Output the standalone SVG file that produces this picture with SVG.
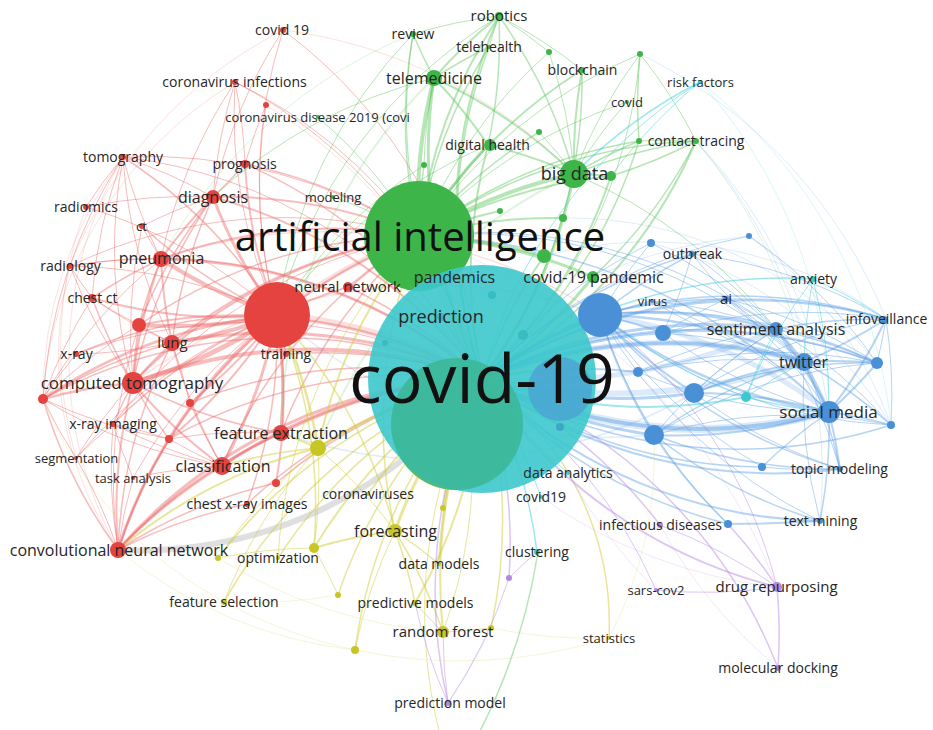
<svg xmlns="http://www.w3.org/2000/svg" width="933" height="730" viewBox="0 0 933 730">
<style>
text{font-family:"Open Sans","Noto Sans","DejaVu Sans",sans-serif;fill:#262626;text-anchor:middle}
.R circle{fill:#e5433f}
.G circle{fill:#3db549}
.B circle{fill:#4a90d6}
.T circle{fill:#3cc8cc}
.Y circle{fill:#c8c526}
.P circle{fill:#b386e0}
#connectors path{fill:none}
.r{stroke:#ee6a6a;stroke-opacity:.45}
.g{stroke:#5ec55e;stroke-opacity:.45}
.b{stroke:#5e9fe4;stroke-opacity:.45}
.t{stroke:#3fd0dc;stroke-opacity:.5}
.y{stroke:#cfcd3a;stroke-opacity:.5}
.p{stroke:#b98ee6;stroke-opacity:.5}
.x{stroke:#c4c4c4;stroke-opacity:.55}
.f{stroke-opacity:.2}
.h{stroke-opacity:.22}
</style>
<rect width="933" height="730" fill="#fff"/>
<g id="connectors" stroke-width="1">
<g id="edges-red">
<path class="r h" stroke-width="7" d="M277 315A500 500 0 0 1 482 379"/>
<path class="r h" stroke-width="5" d="M277 315A500 500 0 0 1 419 236"/>
<path class="r" d="M277 315A500 500 0 0 1 283 30"/>
<path class="r" d="M277 315A500 500 0 0 1 235 82"/>
<path class="r" d="M277 315A500 500 0 0 1 266 105"/>
<path class="r" stroke-width="1.5" d="M277 315A500 500 0 0 0 123 157"/>
<path class="r" stroke-width="2" d="M277 315A500 500 0 0 1 245 164"/>
<path class="r" stroke-width="3" d="M277 315A500 500 0 0 1 213 197"/>
<path class="r" d="M277 315A500 500 0 0 0 86 207"/>
<path class="r" stroke-width="1.5" d="M277 315A500 500 0 0 1 142 226"/>
<path class="r" stroke-width="4" d="M277 315A500 500 0 0 1 161 259"/>
<path class="r" d="M277 315A500 500 0 0 0 70 266"/>
<path class="r" stroke-width="2" d="M277 315A500 500 0 0 1 92 298"/>
<path class="r" stroke-width="4" d="M277 315A500 500 0 0 1 139 325"/>
<path class="r" stroke-width="4" d="M277 315A500 500 0 0 1 172 343"/>
<path class="r" stroke-width="1.5" d="M277 315A500 500 0 0 0 76 354"/>
<path class="r" stroke-width="5" d="M277 315A500 500 0 0 1 133 383"/>
<path class="r" stroke-width="2.5" d="M277 315A500 500 0 0 0 43 399"/>
<path class="r" stroke-width="2" d="M277 315A500 500 0 0 1 190 403"/>
<path class="r" stroke-width="1.5" d="M277 315A500 500 0 0 0 113 424"/>
<path class="r" stroke-width="2" d="M277 315A500 500 0 0 1 169 439"/>
<path class="r" stroke-width="3" d="M277 315A500 500 0 0 1 281 433"/>
<path class="r" d="M277 315A500 500 0 0 0 76 458"/>
<path class="r" stroke-width="3" d="M277 315A500 500 0 0 1 222 466"/>
<path class="r" d="M277 315A500 500 0 0 0 133 478"/>
<path class="r" stroke-width="1.5" d="M277 315A500 500 0 0 1 247 504"/>
<path class="r" stroke-width="3" d="M277 315A500 500 0 0 0 118 550"/>
<path class="r" stroke-width="2" d="M277 315A500 500 0 0 1 348 287"/>
<path class="r" stroke-width="1.5" d="M277 315A500 500 0 0 1 286 354"/>
<path class="r" stroke-width="2" d="M277 315A500 500 0 0 1 276 483"/>
<path class="r" stroke-width="2" d="M213 197A500 500 0 0 1 482 379"/>
<path class="r" stroke-width="3" d="M161 259A500 500 0 0 1 482 379"/>
<path class="r" stroke-width="3" d="M172 343A500 500 0 0 1 482 379"/>
<path class="r" stroke-width="4" d="M133 383A500 500 0 0 1 482 379"/>
<path class="r" stroke-width="3" d="M118 550A500 500 0 0 1 482 379"/>
<path class="r" stroke-width="3" d="M222 466A500 500 0 0 1 482 379"/>
<path class="r" stroke-width="3" d="M281 433A500 500 0 0 1 482 379"/>
<path class="r" stroke-width="1.5" d="M247 504A500 500 0 0 1 482 379"/>
<path class="r" stroke-width="1.5" d="M43 399A500 500 0 0 1 482 379"/>
<path class="r" d="M123 157A500 500 0 0 1 482 379"/>
<path class="r" d="M283 30A500 500 0 0 1 482 379"/>
<path class="r" d="M235 82A500 500 0 0 1 482 379"/>
<path class="r" stroke-width="1.5" d="M245 164A500 500 0 0 1 482 379"/>
<path class="r" stroke-width="2" d="M139 325A500 500 0 0 1 482 379"/>
<path class="r" d="M76 354A500 500 0 0 1 482 379"/>
<path class="r" stroke-width="1.5" d="M190 403A500 500 0 0 1 482 379"/>
<path class="r" d="M70 266A500 500 0 0 1 482 379"/>
<path class="r" stroke-width="1.5" d="M348 287A500 500 0 0 1 482 379"/>
<path class="r" stroke-width="1.5" d="M286 354A500 500 0 0 1 482 379"/>
<path class="r" stroke-width="1.5" d="M169 439A500 500 0 0 1 482 379"/>
<path class="r" stroke-width="1.5" d="M276 483A500 500 0 0 1 482 379"/>
<path class="r" stroke-width="2" d="M213 197A500 500 0 0 1 419 236"/>
<path class="r" stroke-width="2" d="M161 259A500 500 0 0 1 419 236"/>
<path class="r" stroke-width="2" d="M133 383A500 500 0 0 1 419 236"/>
<path class="r" stroke-width="2" d="M118 550A500 500 0 0 1 419 236"/>
<path class="r" stroke-width="2" d="M172 343A500 500 0 0 1 419 236"/>
<path class="r" stroke-width="1.5" d="M222 466A500 500 0 0 1 419 236"/>
<path class="r" stroke-width="1.5" d="M281 433A500 500 0 0 1 419 236"/>
<path class="r" d="M70 266A500 500 0 0 1 419 236"/>
<path class="r" d="M123 157A500 500 0 0 1 419 236"/>
<path class="r" d="M113 424A500 500 0 0 1 419 236"/>
<path class="r" stroke-width="1.5" d="M245 164A500 500 0 0 1 419 236"/>
<path class="r" d="M235 82A500 500 0 0 1 419 236"/>
<path class="r" stroke-width="1.5" d="M348 287A500 500 0 0 1 419 236"/>
<path class="r" stroke-width="1.5" d="M139 325A500 500 0 0 1 419 236"/>
<path class="r" stroke-width="2" d="M133 383A500 500 0 0 1 161 259"/>
<path class="r" stroke-width="2" d="M133 383A500 500 0 0 1 172 343"/>
<path class="r" stroke-width="1.5" d="M133 383A500 500 0 0 1 92 298"/>
<path class="r" stroke-width="2.5" d="M133 383A500 500 0 0 0 43 399"/>
<path class="r" stroke-width="1.5" d="M133 383A500 500 0 0 0 113 424"/>
<path class="r" stroke-width="1.5" d="M133 383A500 500 0 0 1 213 197"/>
<path class="r" d="M133 383A500 500 0 0 1 123 157"/>
<path class="r" d="M133 383A500 500 0 0 1 70 266"/>
<path class="r" d="M133 383A500 500 0 0 1 142 226"/>
<path class="r" stroke-width="2" d="M133 383A500 500 0 0 0 222 466"/>
<path class="r" stroke-width="2" d="M118 550A500 500 0 0 1 133 383"/>
<path class="r" d="M133 383A500 500 0 0 0 76 458"/>
<path class="r" stroke-width="2" d="M133 383A500 500 0 0 1 139 325"/>
<path class="r" stroke-width="1.5" d="M133 383A500 500 0 0 0 281 433"/>
<path class="r" stroke-width="1.5" d="M133 383A500 500 0 0 0 169 439"/>
<path class="r" stroke-width="2" d="M213 197A500 500 0 0 0 161 259"/>
<path class="r" stroke-width="1.5" d="M213 197A500 500 0 0 0 172 343"/>
<path class="r" d="M123 157A500 500 0 0 1 213 197"/>
<path class="r" stroke-width="1.5" d="M245 164A500 500 0 0 1 213 197"/>
<path class="r" d="M86 207A500 500 0 0 1 213 197"/>
<path class="r" d="M142 226A500 500 0 0 1 213 197"/>
<path class="r" stroke-width="1.5" d="M213 197A500 500 0 0 0 139 325"/>
<path class="r" stroke-width="2.5" d="M118 550A500 500 0 0 1 222 466"/>
<path class="r" stroke-width="2" d="M118 550A500 500 0 0 1 281 433"/>
<path class="r" stroke-width="1.5" d="M43 399A500 500 0 0 0 118 550"/>
<path class="r" d="M118 550A500 500 0 0 1 113 424"/>
<path class="r" stroke-width="1.5" d="M118 550A500 500 0 0 1 172 343"/>
<path class="r" d="M118 550A500 500 0 0 1 133 478"/>
<path class="r" stroke-width="1.5" d="M118 550A500 500 0 0 1 247 504"/>
<path class="r" stroke-width="1.5" d="M118 550A500 500 0 0 1 276 483"/>
<path class="r" d="M76 458A500 500 0 0 1 118 550"/>
<path class="r" d="M118 550A500 500 0 0 1 169 439"/>
<path class="r" d="M118 550A500 500 0 0 1 139 325"/>
<path class="r" stroke-width="1.5" d="M43 399A500 500 0 0 1 172 343"/>
<path class="r" d="M43 399A500 500 0 0 1 161 259"/>
<path class="r" d="M43 399A500 500 0 0 1 76 354"/>
<path class="r" d="M43 399A500 500 0 0 0 169 439"/>
<path class="r" d="M43 399A500 500 0 0 1 92 298"/>
<path class="r" d="M43 399A500 500 0 0 1 123 157"/>
<path class="r" d="M43 399A500 500 0 0 0 76 458"/>
<path class="r" d="M43 399A500 500 0 0 1 139 325"/>
<path class="r" d="M43 399A500 500 0 0 0 222 466"/>
<path class="r" stroke-width="2" d="M222 466A500 500 0 0 1 281 433"/>
<path class="r" stroke-width="1.5" d="M172 343A500 500 0 0 0 222 466"/>
<path class="r" d="M113 424A500 500 0 0 0 222 466"/>
<path class="r" d="M133 478A500 500 0 0 1 222 466"/>
<path class="r" d="M190 403A500 500 0 0 0 222 466"/>
<path class="r" d="M169 439A500 500 0 0 0 222 466"/>
<path class="r" d="M169 439A500 500 0 0 1 281 433"/>
<path class="r" d="M113 424A500 500 0 0 1 169 439"/>
<path class="r" d="M76 458A500 500 0 0 1 113 424"/>
<path class="r" d="M133 478A500 500 0 0 1 113 424"/>
<path class="r" stroke-width="2" d="M161 259A500 500 0 0 0 172 343"/>
<path class="r" stroke-width="1.5" d="M92 298A500 500 0 0 1 161 259"/>
<path class="r" d="M123 157A500 500 0 0 0 161 259"/>
<path class="r" d="M142 226A500 500 0 0 0 161 259"/>
<path class="r" d="M70 266A500 500 0 0 1 161 259"/>
<path class="r" stroke-width="1.5" d="M161 259A500 500 0 0 0 139 325"/>
<path class="r" d="M172 343A500 500 0 0 1 76 354"/>
<path class="r" d="M92 298A500 500 0 0 0 172 343"/>
<path class="r" d="M139 325A500 500 0 0 0 172 343"/>
<path class="r" d="M190 403A500 500 0 0 0 172 343"/>
<path class="r" d="M70 266A500 500 0 0 0 92 298"/>
<path class="r" d="M92 298A500 500 0 0 0 139 325"/>
<path class="r" d="M123 157A500 500 0 0 0 86 207"/>
<path class="r" d="M123 157A500 500 0 0 0 92 298"/>
<path class="r" d="M123 157A500 500 0 0 0 172 343"/>
<path class="r" d="M235 82A500 500 0 0 0 213 197"/>
<path class="r" d="M235 82A500 500 0 0 0 161 259"/>
<path class="r" d="M283 30A500 500 0 0 0 213 197"/>
<path class="r" d="M235 82A500 500 0 0 1 245 164"/>
<path class="r" d="M266 105A500 500 0 0 0 245 164"/>
<path class="r f" d="M283 30A500 500 0 0 1 574 174"/>
<path class="r f" d="M123 157A400 400 0 0 0 118 550"/>
<path class="r f" d="M86 207A400 400 0 0 0 76 458"/>
<path class="r f" d="M70 266A350 350 0 0 0 118 550"/>
<path class="r f" d="M235 82A400 400 0 0 0 43 399"/>
<path class="r f" d="M266 105A500 500 0 0 1 482 379"/>
<path class="r f" d="M123 157A400 400 0 0 0 43 399"/>
<path class="r f" d="M283 30A450 450 0 0 0 70 266"/>
<path class="r f" stroke-width="1.5" d="M133 383A500 500 0 0 1 600 315"/>
<path class="r f" stroke-width="1.5" d="M161 259A500 500 0 0 1 600 315"/>
</g>
<g id="edges-gray">
<path class="x" stroke-width="6" d="M118 550A430 430 0 0 0 482 379"/>
</g>
<g id="edges-green">
<path class="g" stroke-width="2" d="M419 236A500 500 0 0 1 499 16"/>
<path class="g" stroke-width="1.5" d="M419 236A500 500 0 0 1 413 34"/>
<path class="g" stroke-width="1.5" d="M419 236A500 500 0 0 1 489 47"/>
<path class="g" d="M419 236A500 500 0 0 1 549 52"/>
<path class="g" d="M419 236A500 500 0 0 1 640 54"/>
<path class="g" stroke-width="4" d="M419 236A500 500 0 0 1 434 78"/>
<path class="g" stroke-width="2" d="M419 236A500 500 0 0 1 582 70"/>
<path class="g" d="M419 236A500 500 0 0 1 627 102"/>
<path class="g" stroke-width="1.5" d="M419 236A500 500 0 0 1 539 132"/>
<path class="g" stroke-width="3" d="M419 236A500 500 0 0 1 488 145"/>
<path class="g" stroke-width="1.5" d="M419 236A500 500 0 0 1 424 165"/>
<path class="g" stroke-width="1.5" d="M419 236A500 500 0 0 1 696 141"/>
<path class="g" stroke-width="1.5" d="M419 236A500 500 0 0 1 639 141"/>
<path class="g" stroke-width="4" d="M419 236A500 500 0 0 1 574 174"/>
<path class="g" stroke-width="2" d="M419 236A500 500 0 0 1 611 176"/>
<path class="g" stroke-width="2" d="M419 236A500 500 0 0 1 500 211"/>
<path class="g" stroke-width="2" d="M419 236A500 500 0 0 1 563 218"/>
<path class="g" stroke-width="3" d="M419 236A500 500 0 0 1 544 256"/>
<path class="g" stroke-width="3" d="M419 236A500 500 0 0 1 593 277"/>
<path class="g" d="M419 236A500 500 0 0 0 333 197"/>
<path class="g" d="M419 236A500 500 0 0 0 318 117"/>
<path class="g" stroke-width="2" d="M482 379A500 500 0 0 1 499 16"/>
<path class="g" stroke-width="3" d="M482 379A500 500 0 0 1 434 78"/>
<path class="g" stroke-width="3" d="M482 379A500 500 0 0 0 574 174"/>
<path class="g" stroke-width="2" d="M482 379A500 500 0 0 1 488 145"/>
<path class="g" stroke-width="2" d="M482 379A500 500 0 0 0 696 141"/>
<path class="g" stroke-width="1.5" d="M482 379A500 500 0 0 0 582 70"/>
<path class="g" stroke-width="3" d="M482 379A500 500 0 0 0 593 277"/>
<path class="g" stroke-width="2" d="M482 379A500 500 0 0 1 544 256"/>
<path class="g" d="M482 379A500 500 0 0 1 413 34"/>
<path class="g" d="M482 379A500 500 0 0 0 640 54"/>
<path class="g" stroke-width="1.5" d="M482 379A500 500 0 0 1 489 47"/>
<path class="g" stroke-width="1.5" d="M482 379A500 500 0 0 0 639 141"/>
<path class="g" stroke-width="2" d="M482 379A500 500 0 0 0 611 176"/>
<path class="g" stroke-width="2" d="M499 16A500 500 0 0 0 434 78"/>
<path class="g" d="M499 16A500 500 0 0 0 413 34"/>
<path class="g" stroke-width="1.5" d="M499 16A500 500 0 0 1 488 145"/>
<path class="g" stroke-width="1.5" d="M499 16A500 500 0 0 1 574 174"/>
<path class="g" d="M499 16A500 500 0 0 1 549 52"/>
<path class="g" d="M499 16A500 500 0 0 1 582 70"/>
<path class="g" d="M499 16A500 500 0 0 0 489 47"/>
<path class="g" stroke-width="1.5" d="M434 78A500 500 0 0 1 413 34"/>
<path class="g" stroke-width="1.5" d="M434 78A500 500 0 0 1 489 47"/>
<path class="g" stroke-width="2" d="M434 78A500 500 0 0 1 488 145"/>
<path class="g" stroke-width="2" d="M434 78A500 500 0 0 1 574 174"/>
<path class="g" d="M434 78A500 500 0 0 0 424 165"/>
<path class="g" stroke-width="2" d="M574 174A500 500 0 0 1 582 70"/>
<path class="g" d="M574 174A500 500 0 0 1 640 54"/>
<path class="g" stroke-width="1.5" d="M574 174A500 500 0 0 1 696 141"/>
<path class="g" stroke-width="1.5" d="M574 174A500 500 0 0 1 639 141"/>
<path class="g" stroke-width="2" d="M574 174A500 500 0 0 1 611 176"/>
<path class="g" d="M574 174A500 500 0 0 1 627 102"/>
<path class="g" d="M574 174A500 500 0 0 0 539 132"/>
<path class="g" stroke-width="2" d="M574 174A500 500 0 0 0 488 145"/>
<path class="g" d="M574 174A500 500 0 0 0 549 52"/>
<path class="g" d="M696 141A500 500 0 0 0 640 54"/>
<path class="g" stroke-width="1.5" d="M639 141A500 500 0 0 1 640 54"/>
<path class="g" stroke-width="1.5" d="M696 141A500 500 0 0 1 611 176"/>
<path class="g" d="M639 141A500 500 0 0 0 611 176"/>
<path class="g" d="M696 141A500 500 0 0 0 639 141"/>
<path class="g" stroke-width="1.5" d="M696 141A500 500 0 0 1 593 277"/>
<path class="g" d="M434 78A500 500 0 0 0 213 197"/>
<path class="g" d="M413 34A500 500 0 0 0 277 315"/>
<path class="g" d="M499 16A500 500 0 0 0 277 315"/>
<path class="g" d="M424 165A500 500 0 0 0 277 315"/>
<path class="g" d="M488 145A500 500 0 0 0 277 315"/>
<path class="g f" d="M413 34A500 500 0 0 0 161 259"/>
<path class="g" d="M574 174A500 500 0 0 1 776 329"/>
<path class="g f" d="M696 141A500 500 0 0 1 804 362"/>
<path class="g" stroke-width="1.5" d="M538 552A600 600 0 0 1 478 735"/>
<path class="g f" stroke-width="2" d="M434 78A500 500 0 0 0 281 433"/>
<path class="g f" stroke-width="2" d="M574 174A500 500 0 0 0 318 448"/>
</g>
<g id="edges-blue">
<path class="b h" stroke-width="8" d="M482 379A500 500 0 0 0 829 412"/>
<path class="b h" stroke-width="6" d="M482 379A500 500 0 0 1 804 362"/>
<path class="b h" stroke-width="6" d="M482 379A600 600 0 0 0 804 362"/>
<path class="b h" stroke-width="5" d="M600 315A500 500 0 0 1 829 412"/>
<path class="b h" stroke-width="5" d="M482 379A600 600 0 0 0 776 329"/>
<path class="b" stroke-width="4" d="M482 379A500 500 0 0 1 600 315"/>
<path class="b" stroke-width="2" d="M482 379A500 500 0 0 1 638 372"/>
<path class="b" stroke-width="2.5" d="M482 379A500 500 0 0 1 663 333"/>
<path class="b" stroke-width="3" d="M482 379A500 500 0 0 0 694 393"/>
<path class="b" stroke-width="3" d="M482 379A500 500 0 0 0 654 435"/>
<path class="b" stroke-width="3" d="M482 379A500 500 0 0 1 776 329"/>
<path class="b" stroke-width="3.5" d="M482 379A500 500 0 0 1 804 362"/>
<path class="b" stroke-width="4" d="M482 379A500 500 0 0 0 829 412"/>
<path class="b" stroke-width="2" d="M482 379A500 500 0 0 1 886 319"/>
<path class="b" stroke-width="2" d="M482 379A500 500 0 0 1 877 363"/>
<path class="b" stroke-width="1.5" d="M482 379A500 500 0 0 0 891 425"/>
<path class="b" stroke-width="2" d="M482 379A500 500 0 0 0 840 469"/>
<path class="b" stroke-width="2" d="M482 379A500 500 0 0 0 820 521"/>
<path class="b" stroke-width="1.5" d="M482 379A500 500 0 0 0 762 467"/>
<path class="b" stroke-width="1.5" d="M482 379A500 500 0 0 0 728 524"/>
<path class="b" stroke-width="1.5" d="M482 379A500 500 0 0 1 692 254"/>
<path class="b" stroke-width="2" d="M482 379A500 500 0 0 1 726 299"/>
<path class="b" d="M482 379A500 500 0 0 1 651 243"/>
<path class="b" d="M482 379A500 500 0 0 1 749 236"/>
<path class="b" stroke-width="1.5" d="M482 379A500 500 0 0 1 652 301"/>
<path class="b" stroke-width="2.5" d="M600 315A500 500 0 0 1 804 362"/>
<path class="b" stroke-width="2.5" d="M600 315A500 500 0 0 0 829 412"/>
<path class="b" stroke-width="2.5" d="M600 315A500 500 0 0 1 776 329"/>
<path class="b" stroke-width="1.5" d="M600 315A500 500 0 0 1 877 363"/>
<path class="b" stroke-width="1.5" d="M600 315A500 500 0 0 1 886 319"/>
<path class="b" stroke-width="2" d="M600 315A500 500 0 0 0 694 393"/>
<path class="b" stroke-width="2" d="M600 315A500 500 0 0 0 654 435"/>
<path class="b" stroke-width="1.5" d="M600 315A500 500 0 0 0 840 469"/>
<path class="b" d="M600 315A500 500 0 0 0 762 467"/>
<path class="b" stroke-width="1.5" d="M600 315A500 500 0 0 1 726 299"/>
<path class="b" stroke-width="1.5" d="M600 315A500 500 0 0 1 692 254"/>
<path class="b" stroke-width="2" d="M600 315A500 500 0 0 1 663 333"/>
<path class="b" d="M600 315A500 500 0 0 0 891 425"/>
<path class="b" d="M600 315A500 500 0 0 0 820 521"/>
<path class="b" d="M600 315A500 500 0 0 0 728 524"/>
<path class="b" d="M600 315A500 500 0 0 1 651 243"/>
<path class="b" stroke-width="3" d="M804 362A500 500 0 0 1 829 412"/>
<path class="b" stroke-width="2.5" d="M804 362A500 500 0 0 0 776 329"/>
<path class="b" stroke-width="2" d="M804 362A500 500 0 0 0 886 319"/>
<path class="b" stroke-width="2" d="M804 362A500 500 0 0 1 877 363"/>
<path class="b" stroke-width="1.5" d="M804 362A500 500 0 0 1 891 425"/>
<path class="b" stroke-width="1.5" d="M804 362A500 500 0 0 1 840 469"/>
<path class="b" d="M804 362A500 500 0 0 0 820 521"/>
<path class="b" stroke-width="1.5" d="M804 362A500 500 0 0 0 694 393"/>
<path class="b" stroke-width="1.5" d="M804 362A500 500 0 0 0 654 435"/>
<path class="b" d="M804 362A500 500 0 0 0 663 333"/>
<path class="b" d="M804 362A500 500 0 0 0 638 372"/>
<path class="b" d="M804 362A500 500 0 0 0 726 299"/>
<path class="b" d="M804 362A500 500 0 0 1 652 301"/>
<path class="b" d="M804 362A500 500 0 0 1 692 254"/>
<path class="b" stroke-width="2.5" d="M829 412A500 500 0 0 0 776 329"/>
<path class="b" stroke-width="2" d="M829 412A500 500 0 0 0 886 319"/>
<path class="b" stroke-width="2" d="M829 412A500 500 0 0 0 877 363"/>
<path class="b" stroke-width="1.5" d="M829 412A500 500 0 0 1 891 425"/>
<path class="b" stroke-width="2" d="M829 412A500 500 0 0 1 840 469"/>
<path class="b" stroke-width="1.5" d="M829 412A500 500 0 0 1 820 521"/>
<path class="b" stroke-width="2" d="M654 435A500 500 0 0 0 829 412"/>
<path class="b" stroke-width="1.5" d="M762 467A500 500 0 0 1 829 412"/>
<path class="b" stroke-width="2" d="M694 393A500 500 0 0 1 829 412"/>
<path class="b" d="M663 333A500 500 0 0 0 829 412"/>
<path class="b" d="M638 372A500 500 0 0 0 829 412"/>
<path class="b" d="M652 301A500 500 0 0 1 829 412"/>
<path class="b" d="M726 299A500 500 0 0 1 829 412"/>
<path class="b" stroke-width="1.5" d="M776 329A500 500 0 0 1 886 319"/>
<path class="b" stroke-width="1.5" d="M776 329A500 500 0 0 1 877 363"/>
<path class="b" stroke-width="1.5" d="M776 329A500 500 0 0 0 663 333"/>
<path class="b" d="M776 329A500 500 0 0 0 726 299"/>
<path class="b" d="M776 329A500 500 0 0 0 694 393"/>
<path class="b" d="M776 329A500 500 0 0 0 654 435"/>
<path class="b" d="M776 329A500 500 0 0 0 638 372"/>
<path class="b" d="M776 329A500 500 0 0 1 891 425"/>
<path class="b" d="M776 329A500 500 0 0 1 840 469"/>
<path class="b" d="M692 254A500 500 0 0 1 776 329"/>
<path class="b" d="M692 254A500 500 0 0 1 886 319"/>
<path class="b" d="M652 301A500 500 0 0 1 776 329"/>
<path class="b" d="M663 333A500 500 0 0 1 886 319"/>
<path class="b" d="M663 333A500 500 0 0 1 877 363"/>
<path class="b" d="M638 372A500 500 0 0 1 877 363"/>
<path class="b" d="M694 393A500 500 0 0 1 886 319"/>
<path class="b" d="M654 435A500 500 0 0 1 891 425"/>
<path class="b" d="M654 435A500 500 0 0 1 877 363"/>
<path class="b" d="M726 299A500 500 0 0 1 886 319"/>
<path class="b" d="M726 299A500 500 0 0 1 877 363"/>
<path class="b" stroke-width="1.5" d="M654 435A500 500 0 0 0 820 521"/>
<path class="b" stroke-width="1.5" d="M654 435A500 500 0 0 0 840 469"/>
<path class="b" stroke-width="1.5" d="M654 435A500 500 0 0 0 728 524"/>
<path class="b" stroke-width="1.5" d="M694 393A500 500 0 0 1 877 363"/>
<path class="b" d="M694 393A500 500 0 0 0 840 469"/>
<path class="b" stroke-width="2" d="M728 524A1500 1500 0 0 0 820 521"/>
<path class="b" d="M762 467A500 500 0 0 0 840 469"/>
<path class="b" d="M891 425A500 500 0 0 0 886 319"/>
<path class="b" d="M877 363A500 500 0 0 0 886 319"/>
<path class="b" d="M419 236A500 500 0 0 1 776 329"/>
<path class="b" d="M419 236A500 500 0 0 1 804 362"/>
<path class="b" stroke-width="1.5" d="M419 236A600 600 0 0 1 829 412"/>
<path class="b" d="M749 236A500 500 0 0 1 877 363"/>
<path class="b" d="M651 243A500 500 0 0 1 776 329"/>
<path class="b" d="M692 254A500 500 0 0 1 663 333"/>
<path class="b" d="M726 299A500 500 0 0 0 663 333"/>
<path class="b f" d="M640 54A500 500 0 0 1 886 319"/>
<path class="b f" d="M696 141A500 500 0 0 1 820 521"/>
<path class="b f" d="M696 141A500 500 0 0 1 829 412"/>
<path class="b f" d="M749 236A400 400 0 0 1 891 425"/>
<path class="b f" d="M544 256A400 400 0 0 1 886 319"/>
<path class="b f" d="M563 218A400 400 0 0 1 877 363"/>
<path class="b f" d="M651 243A400 400 0 0 1 891 425"/>
<path class="b f" d="M593 277A500 500 0 0 1 749 236"/>
<path class="b f" stroke-width="1.5" d="M277 315A500 500 0 0 0 654 435"/>
<path class="b f" stroke-width="1.5" d="M281 433A500 500 0 0 0 694 393"/>
</g>
<g id="edges-teal">
<path class="t" stroke-width="1.5" d="M482 379A500 500 0 0 1 813 279"/>
<path class="t" stroke-width="2" d="M482 379A500 500 0 0 0 746 397"/>
<path class="t" d="M482 379A500 500 0 0 1 700 82"/>
<path class="t" stroke-width="1.5" d="M700 82A500 500 0 0 0 574 174"/>
<path class="t" d="M700 82A500 500 0 0 0 639 141"/>
<path class="t" d="M813 279A500 500 0 0 0 804 362"/>
<path class="t" d="M813 279A500 500 0 0 1 829 412"/>
<path class="t" d="M813 279A500 500 0 0 0 746 397"/>
<path class="t" stroke-width="1.5" d="M746 397A500 500 0 0 0 829 412"/>
<path class="t" d="M746 397A500 500 0 0 1 804 362"/>
<path class="t" d="M813 279A500 500 0 0 1 886 319"/>
<path class="t" d="M746 397A500 500 0 0 1 776 329"/>
<path class="t" stroke-width="1.5" d="M482 379A500 500 0 0 1 537 552"/>
<path class="t" d="M482 379A500 500 0 0 1 541 497"/>
<path class="t" d="M482 379A500 500 0 0 0 568 473"/>
<path class="t f" d="M700 82A500 500 0 0 1 891 425"/>
<path class="t f" d="M700 82A500 500 0 0 1 829 412"/>
<path class="t" d="M600 315A500 500 0 0 0 746 397"/>
</g>
<g id="edges-yellow">
<path class="y" stroke-width="3" d="M482 379A500 500 0 0 0 318 448"/>
<path class="y" stroke-width="2" d="M482 379A500 500 0 0 0 368 494"/>
<path class="y" stroke-width="3" d="M482 379A500 500 0 0 0 395 531"/>
<path class="y" stroke-width="2" d="M482 379A500 500 0 0 0 314 548"/>
<path class="y" stroke-width="1.5" d="M482 379A500 500 0 0 0 218 558"/>
<path class="y" stroke-width="2" d="M482 379A500 500 0 0 0 439 564"/>
<path class="y" stroke-width="1.5" d="M482 379A500 500 0 0 0 338 595"/>
<path class="y" stroke-width="1.5" d="M482 379A500 500 0 0 0 224 602"/>
<path class="y" stroke-width="2" d="M482 379A500 500 0 0 1 415 603"/>
<path class="y" stroke-width="2" d="M482 379A500 500 0 0 0 443 632"/>
<path class="y" stroke-width="1.5" d="M482 379A500 500 0 0 1 491 628"/>
<path class="y" stroke-width="1.5" d="M482 379A500 500 0 0 0 355 650"/>
<path class="y" stroke-width="1.5" d="M482 379A300 300 0 0 1 609 638"/>
<path class="y" stroke-width="2" d="M482 379A500 500 0 0 0 443 508"/>
<path class="y" stroke-width="1.5" d="M482 379A500 500 0 0 0 278 558"/>
<path class="y" stroke-width="2" d="M419 236A500 500 0 0 0 318 448"/>
<path class="y" stroke-width="1.5" d="M419 236A500 500 0 0 0 395 531"/>
<path class="y" d="M419 236A500 500 0 0 0 278 558"/>
<path class="y" d="M419 236A500 500 0 0 1 443 632"/>
<path class="y" stroke-width="2.5" d="M277 315A500 500 0 0 1 318 448"/>
<path class="y" stroke-width="1.5" d="M277 315A500 500 0 0 1 314 548"/>
<path class="y" stroke-width="1.5" d="M277 315A500 500 0 0 1 395 531"/>
<path class="y" stroke-width="2" d="M395 531A500 500 0 0 0 314 548"/>
<path class="y" stroke-width="1.5" d="M395 531A500 500 0 0 1 443 632"/>
<path class="y" stroke-width="1.5" d="M395 531A500 500 0 0 1 415 603"/>
<path class="y" d="M395 531A500 500 0 0 0 355 650"/>
<path class="y" stroke-width="1.5" d="M395 531A500 500 0 0 1 439 564"/>
<path class="y" d="M318 448A500 500 0 0 0 224 602"/>
<path class="y" d="M318 448A500 500 0 0 0 218 558"/>
<path class="y" stroke-width="2" d="M318 448A500 500 0 0 0 118 550"/>
<path class="y" stroke-width="2" d="M318 448A500 500 0 0 0 281 433"/>
<path class="y" stroke-width="1.5" d="M318 448A500 500 0 0 0 222 466"/>
<path class="y" d="M318 448A500 500 0 0 1 395 531"/>
<path class="y" d="M318 448A500 500 0 0 1 314 548"/>
<path class="y" d="M443 632A500 500 0 0 0 491 628"/>
<path class="y" d="M443 632A500 500 0 0 1 415 603"/>
<path class="y" d="M314 548A500 500 0 0 0 218 558"/>
<path class="y" d="M314 548A500 500 0 0 1 338 595"/>
<path class="y f" d="M355 650A500 500 0 0 1 224 602"/>
<path class="y f" d="M338 595A500 500 0 0 1 224 602"/>
<path class="y f" d="M609 638A500 500 0 0 1 491 628"/>
<path class="y f" d="M355 650A450 450 0 0 1 118 550"/>
<path class="y f" d="M224 602A400 400 0 0 1 43 399"/>
<path class="y" d="M482 379A500 500 0 0 0 440 735"/>
<path class="y f" d="M609 638A500 500 0 0 1 355 650"/>
<path class="y f" d="M443 632A500 500 0 0 1 218 558"/>
<path class="y f" d="M609 638A400 400 0 0 0 654 435"/>
</g>
<g id="edges-purple">
<path class="p" stroke-width="1.5" d="M482 379A500 500 0 0 0 448 703"/>
<path class="p" stroke-width="1.5" d="M482 379A500 500 0 0 1 509 578"/>
<path class="p" d="M482 379A500 500 0 0 1 656 590"/>
<path class="p" stroke-width="2" d="M482 379A500 500 0 0 0 777 587"/>
<path class="p" stroke-width="1.5" d="M482 379A500 500 0 0 1 778 668"/>
<path class="p" stroke-width="1.5" d="M482 379A500 500 0 0 1 660 525"/>
<path class="p" stroke-width="1.5" d="M777 587A500 500 0 0 1 778 668"/>
<path class="p" stroke-width="1.5" d="M777 587A500 500 0 0 0 728 524"/>
<path class="p" d="M777 587A500 500 0 0 0 660 525"/>
<path class="p" d="M777 587A500 500 0 0 1 656 590"/>
<path class="p" d="M777 587A500 500 0 0 0 600 315"/>
<path class="p" d="M448 703A500 500 0 0 1 443 632"/>
<path class="p" d="M448 703A500 500 0 0 0 509 578"/>
<path class="p" d="M448 703A500 500 0 0 1 415 603"/>
<path class="p f" d="M448 703A500 500 0 0 0 491 628"/>
<path class="p f" d="M778 668A500 500 0 0 1 660 525"/>
<path class="p f" d="M541 497A500 500 0 0 0 777 587"/>
<path class="p f" d="M568 473A500 500 0 0 0 656 590"/>
<path class="p f" d="M419 236A600 600 0 0 1 777 587"/>
<path class="p" d="M509 578A500 500 0 0 1 537 552"/>
</g>
</g>
<g id="nodes">
<g id="n-forecast-core" class="Y"><circle cx="455" cy="428" r="62"/></g>
<g id="n-artificial-intelligence" class="G"><circle cx="419" cy="236" r="55"/><text x="420" y="251" font-size="40" style="fill:#111">artificial intelligence</text></g>
<g id="n-covid-19" class="T"><circle cx="482" cy="379" r="114" style="fill-opacity:.9"/><g id="n-machine-core" class="G"><circle cx="457" cy="424" r="66" style="fill:#3cb89a;fill-opacity:.92"/></g><g id="n-covid-inner" class="B"><circle cx="560" cy="389" r="32" style="fill:#4aa2d2;fill-opacity:.8"/></g><text x="482" y="403" font-size="68" style="fill:#111">covid-19</text></g>
<g id="n-red-hub" class="R"><circle cx="277" cy="315" r="33"/></g>
<g id="n-blue-hub" class="B"><circle cx="600" cy="315" r="22"/></g>
<g id="n-r1" class="R"><circle cx="266" cy="105" r="3"/></g>
<g id="n-r2" class="R"><circle cx="139" cy="325" r="7"/></g>
<g id="n-r3" class="R"><circle cx="43" cy="399" r="5"/></g>
<g id="n-r4" class="R"><circle cx="190" cy="403" r="4"/></g>
<g id="n-r5" class="R"><circle cx="169" cy="439" r="4"/></g>
<g id="n-r6" class="R"><circle cx="276" cy="483" r="4"/></g>
<g id="n-y1" class="Y"><circle cx="318" cy="448" r="8"/></g>
<g id="n-y2" class="Y"><circle cx="443" cy="508" r="3"/></g>
<g id="n-y3" class="Y"><circle cx="314" cy="548" r="5"/></g>
<g id="n-y4" class="Y"><circle cx="218" cy="558" r="3"/></g>
<g id="n-y5" class="Y"><circle cx="338" cy="595" r="3"/></g>
<g id="n-y6" class="Y"><circle cx="491" cy="628" r="3"/></g>
<g id="n-y7" class="Y"><circle cx="355" cy="650" r="4"/></g>
<g id="n-p1" class="P"><circle cx="509" cy="578" r="3"/></g>
<g id="n-g1" class="G"><circle cx="549" cy="52" r="3"/></g>
<g id="n-g2" class="G"><circle cx="640" cy="54" r="3"/></g>
<g id="n-g3" class="G"><circle cx="539" cy="132" r="3"/></g>
<g id="n-g4" class="G"><circle cx="424" cy="165" r="3"/></g>
<g id="n-g5" class="G"><circle cx="639" cy="141" r="3"/></g>
<g id="n-g6" class="G"><circle cx="611" cy="176" r="5"/></g>
<g id="n-g7" class="G"><circle cx="500" cy="211" r="3"/></g>
<g id="n-g8" class="G"><circle cx="563" cy="218" r="4"/></g>
<g id="n-g9" class="G"><circle cx="544" cy="256" r="7"/></g>
<g id="n-b1" class="B"><circle cx="728" cy="524" r="4"/></g>
<g id="n-b2" class="B"><circle cx="762" cy="467" r="4"/></g>
<g id="n-b3" class="B"><circle cx="891" cy="425" r="4"/></g>
<g id="n-b4" class="B"><circle cx="654" cy="435" r="10"/></g>
<g id="n-b5" class="B"><circle cx="694" cy="393" r="10"/></g>
<g id="n-b6" class="B"><circle cx="638" cy="372" r="5"/></g>
<g id="n-b7" class="B"><circle cx="877" cy="363" r="6"/></g>
<g id="n-b8" class="B"><circle cx="663" cy="333" r="8"/></g>
<g id="n-b9" class="B"><circle cx="651" cy="243" r="4"/></g>
<g id="n-b10" class="B"><circle cx="749" cy="236" r="3"/></g>
<g id="n-t1" class="T"><circle cx="746" cy="397" r="5"/></g>
<g id="n-t2" class="T"><circle cx="492" cy="295" r="4" style="fill:#38bcc2"/></g>
<g id="n-t3" class="T"><circle cx="523" cy="335" r="5" style="fill:#38bcc2"/></g>
<g id="n-t4" class="T"><circle cx="385" cy="343" r="3" style="fill:#38bcc2"/></g>
<g id="n-t5" class="T"><circle cx="560" cy="427" r="4" style="fill:#3fa6c8"/></g>
<g id="n-covid-19-sp" class="R"><circle cx="283" cy="30" r="3"/><text x="282" y="35" font-size="14">covid 19</text></g>
<g id="n-coronavirus-infections" class="R"><circle cx="235" cy="82" r="3"/><text x="234.5" y="87" font-size="14">coronavirus infections</text></g>
<g id="n-coronavirus-disease-2019" class="G"><circle cx="318" cy="117" r="2"/><text x="317.5" y="122" font-size="13">coronavirus disease 2019 (covi</text></g>
<g id="n-tomography" class="R"><circle cx="123" cy="157" r="3"/><text x="123" y="162" font-size="14">tomography</text></g>
<g id="n-prognosis" class="R"><circle cx="245" cy="164" r="4"/><text x="244.5" y="169" font-size="14">prognosis</text></g>
<g id="n-diagnosis" class="R"><circle cx="213" cy="197" r="7"/><text x="213" y="203" font-size="16">diagnosis</text></g>
<g id="n-modeling" class="G"><circle cx="333" cy="197" r="2"/><text x="333" y="202" font-size="13">modeling</text></g>
<g id="n-radiomics" class="R"><circle cx="86" cy="207" r="3"/><text x="86" y="212" font-size="14">radiomics</text></g>
<g id="n-ct" class="R"><circle cx="142" cy="226" r="3"/><text x="141.5" y="231" font-size="13">ct</text></g>
<g id="n-pneumonia" class="R"><circle cx="161" cy="259" r="8"/><text x="161.5" y="264" font-size="16">pneumonia</text></g>
<g id="n-radiology" class="R"><circle cx="70" cy="266" r="3"/><text x="70.5" y="271" font-size="14">radiology</text></g>
<g id="n-chest-ct" class="R"><circle cx="92" cy="298" r="4"/><text x="92.5" y="303" font-size="14">chest ct</text></g>
<g id="n-lung" class="R"><circle cx="172" cy="343" r="8"/><text x="172.5" y="348" font-size="15">lung</text></g>
<g id="n-x-ray" class="R"><circle cx="76" cy="354" r="3"/><text x="76.5" y="359" font-size="14">x-ray</text></g>
<g id="n-training" class="R"><circle cx="286" cy="354" r="3"/><text x="286" y="359" font-size="14">training</text></g>
<g id="n-neural-network" class="R"><circle cx="348" cy="287" r="5"/><text x="347.5" y="292" font-size="15">neural network</text></g>
<g id="n-computed-tomography" class="R"><circle cx="133" cy="383" r="11"/><text x="132" y="389" font-size="17">computed tomography</text></g>
<g id="n-x-ray-imaging" class="R"><circle cx="113" cy="424" r="3"/><text x="113" y="429" font-size="14">x-ray imaging</text></g>
<g id="n-feature-extraction" class="R"><circle cx="281" cy="433" r="8"/><text x="281" y="439" font-size="16">feature extraction</text></g>
<g id="n-segmentation" class="R"><circle cx="76" cy="458" r="2"/><text x="76.5" y="463" font-size="13">segmentation</text></g>
<g id="n-classification" class="R"><circle cx="222" cy="466" r="9"/><text x="223" y="472" font-size="16">classification</text></g>
<g id="n-task-analysis" class="R"><circle cx="133" cy="478" r="2"/><text x="133" y="483" font-size="13">task analysis</text></g>
<g id="n-chest-x-ray-images" class="R"><circle cx="247" cy="504" r="3"/><text x="247" y="509" font-size="14">chest x-ray images</text></g>
<g id="n-convolutional-neural-network" class="R"><circle cx="118" cy="550" r="8"/><text x="119" y="556" font-size="16">convolutional neural network</text></g>
<g id="n-coronaviruses" class="Y"><circle cx="368" cy="494" r="2"/><text x="368" y="499" font-size="14">coronaviruses</text></g>
<g id="n-forecasting" class="Y"><circle cx="395" cy="531" r="7"/><text x="395.5" y="537" font-size="16">forecasting</text></g>
<g id="n-optimization" class="Y"><circle cx="278" cy="558" r="2"/><text x="278" y="563" font-size="14">optimization</text></g>
<g id="n-data-models" class="Y"><circle cx="439" cy="564" r="2"/><text x="439" y="569" font-size="14">data models</text></g>
<g id="n-feature-selection" class="Y"><circle cx="224" cy="602" r="3"/><text x="224" y="607" font-size="14">feature selection</text></g>
<g id="n-predictive-models" class="Y"><circle cx="415" cy="603" r="3"/><text x="415.5" y="608" font-size="14">predictive models</text></g>
<g id="n-random-forest" class="Y"><circle cx="443" cy="632" r="6"/><text x="443" y="637" font-size="15">random forest</text></g>
<g id="n-statistics" class="Y"><circle cx="609" cy="638" r="2"/><text x="609" y="643" font-size="13">statistics</text></g>
<g id="n-prediction-model" class="P"><circle cx="448" cy="703" r="3"/><text x="450" y="708" font-size="14">prediction model</text></g>
<g id="n-clustering" class="T"><circle cx="537" cy="552" r="3"/><text x="537" y="557" font-size="14">clustering</text></g>
<g id="n-sars-cov2" class="P"><circle cx="656" cy="590" r="2"/><text x="656" y="595" font-size="13">sars-cov2</text></g>
<g id="n-drug-repurposing" class="P"><circle cx="777" cy="587" r="5"/><text x="776.5" y="592" font-size="15">drug repurposing</text></g>
<g id="n-molecular-docking" class="P"><circle cx="778" cy="668" r="3"/><text x="778" y="673" font-size="14">molecular docking</text></g>
<g id="n-infectious-diseases" class="P"><circle cx="660" cy="525" r="3"/><text x="660.5" y="530" font-size="14">infectious diseases</text></g>
<g id="n-covid19" class="T"><circle cx="541" cy="497" r="2"/><text x="541" y="502" font-size="14">covid19</text></g>
<g id="n-data-analytics" class="T"><circle cx="568" cy="473" r="2"/><text x="568" y="478" font-size="14">data analytics</text></g>
<g id="n-text-mining" class="B"><circle cx="820" cy="521" r="3"/><text x="820.5" y="526" font-size="14">text mining</text></g>
<g id="n-topic-modeling" class="B"><circle cx="840" cy="469" r="3"/><text x="839.5" y="474" font-size="14">topic modeling</text></g>
<g id="n-social-media" class="B"><circle cx="829" cy="412" r="11"/><text x="828.5" y="418" font-size="17">social media</text></g>
<g id="n-twitter" class="B"><circle cx="804" cy="362" r="9"/><text x="803.5" y="368" font-size="16">twitter</text></g>
<g id="n-sentiment-analysis" class="B"><circle cx="776" cy="329" r="7"/><text x="776" y="335" font-size="16">sentiment analysis</text></g>
<g id="n-infoveillance" class="B"><circle cx="884" cy="320" r="4"/><text x="886.5" y="324" font-size="14">infoveillance</text></g>
<g id="n-ai" class="B"><circle cx="726" cy="299" r="3"/><text x="726" y="304" font-size="15">ai</text></g>
<g id="n-virus" class="B"><circle cx="652" cy="301" r="2"/><text x="652.5" y="306" font-size="13">virus</text></g>
<g id="n-anxiety" class="T"><circle cx="813" cy="279" r="3"/><text x="813.5" y="284" font-size="14">anxiety</text></g>
<g id="n-outbreak" class="B"><circle cx="692" cy="254" r="3"/><text x="692.5" y="259" font-size="14">outbreak</text></g>
<g id="n-risk-factors" class="T"><circle cx="700" cy="82" r="2"/><text x="700.5" y="87" font-size="13">risk factors</text></g>
<g id="n-robotics" class="G"><circle cx="499" cy="16" r="4"/><text x="499" y="21" font-size="15">robotics</text></g>
<g id="n-review" class="G"><circle cx="413" cy="34" r="3"/><text x="413" y="39" font-size="14">review</text></g>
<g id="n-telehealth" class="G"><circle cx="489" cy="47" r="2"/><text x="489" y="52" font-size="14">telehealth</text></g>
<g id="n-telemedicine" class="G"><circle cx="434" cy="78" r="8"/><text x="434" y="84" font-size="16">telemedicine</text></g>
<g id="n-blockchain" class="G"><circle cx="582" cy="70" r="3"/><text x="582.5" y="75" font-size="14">blockchain</text></g>
<g id="n-covid" class="G"><circle cx="627" cy="102" r="2"/><text x="627" y="107" font-size="13">covid</text></g>
<g id="n-digital-health" class="G"><circle cx="490" cy="145" r="6"/><text x="487.5" y="150" font-size="14">digital health</text></g>
<g id="n-contact-tracing" class="G"><circle cx="696" cy="141" r="3"/><text x="696" y="146" font-size="14">contact tracing</text></g>
<g id="n-big-data" class="G"><circle cx="574" cy="174" r="14"/><text x="574.5" y="180" font-size="18">big data</text></g>
<g id="n-covid-19-pandemic" class="G"><circle cx="593" cy="277" r="6"/><text x="593.5" y="283" font-size="16">covid-19 pandemic</text></g>
<g id="n-pandemics" class="T"><circle cx="455" cy="277" r="3" style="fill:#38bcc2"/><text x="454.5" y="283" font-size="16">pandemics</text></g>
<g id="n-prediction" class="T"><circle cx="441" cy="317" r="4" style="fill:#44b8b0"/><text x="441" y="323" font-size="18">prediction</text></g>
</g>
</svg>
